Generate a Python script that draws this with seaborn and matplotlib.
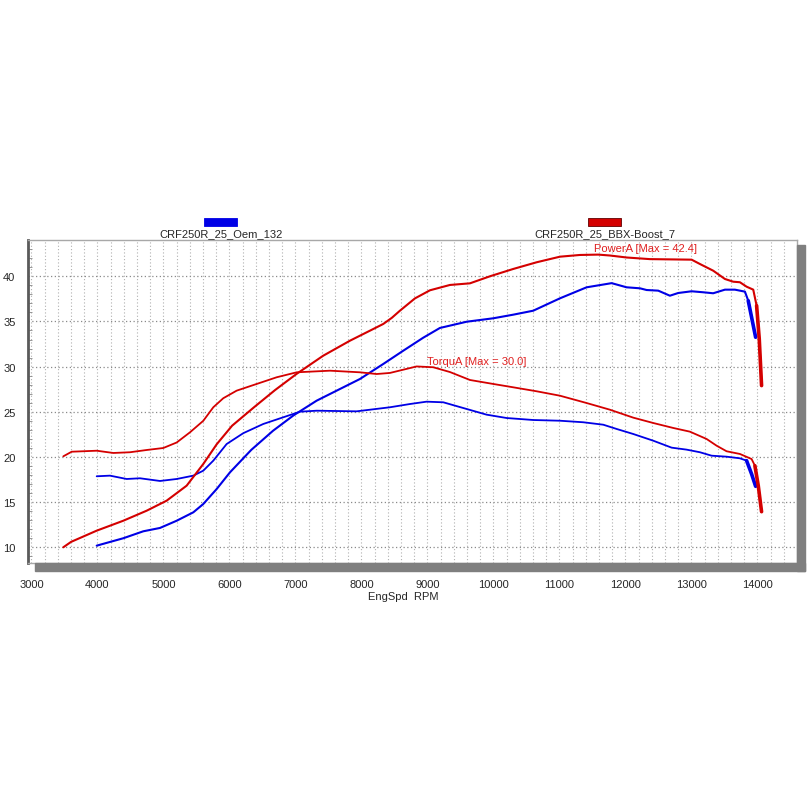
import numpy as np
import pandas as pd
import matplotlib
matplotlib.use("Agg")
import matplotlib.pyplot as plt
import seaborn as sns
from matplotlib.patches import Rectangle

# --- data ---
bbx_power_rpm = [3482, 3600, 3988, 4391, 4745, 5048, 5351, 5603, 5806, 6040, 6380, 6690, 7018,
                 7421, 7826, 8129, 8330, 8460, 8583, 8810, 9038, 9341, 9644, 9947, 10300, 10654,
                 11008, 11311, 11588, 11765, 12018, 12371, 13003, 13129, 13330, 13508, 13634,
                 13735, 13836, 13937, 13988, 14028, 14063]
bbx_power = [10.0, 10.6, 11.84, 12.94, 14.05, 15.16, 16.82, 19.22, 21.4, 23.46, 25.55, 27.4, 29.2,
             31.21, 32.87, 33.98, 34.72, 35.4, 36.19, 37.55, 38.45, 39.04, 39.22, 40.0, 40.81, 41.55,
             42.17, 42.36, 42.4, 42.3, 42.08, 41.9, 41.84, 41.36, 40.62, 39.7, 39.4,
             39.34, 38.85, 38.52, 36.75, 33.06, 27.9]

bbx_torque_rpm = [3482, 3609, 3988, 4240, 4492, 4745, 4997, 5200, 5402, 5603, 5755, 5906, 6109,
                  6412, 6715, 7018, 7523, 7977, 8230, 8432, 8836, 9088, 9341, 9644, 9997,
                  10300, 10654, 11008, 11412, 11765, 12119, 12421, 12724, 12977, 13230, 13381,
                  13533, 13735, 13912, 13962, 14013, 14063]
bbx_torque = [20.07, 20.58, 20.69, 20.44, 20.52, 20.77, 20.99, 21.6, 22.73, 24.0, 25.5, 26.5, 27.34,
              28.08, 28.82, 29.37, 29.55, 29.37, 29.18, 29.3, 30.02, 29.93, 29.4, 28.52, 28.08,
              27.71, 27.27, 26.78, 25.97, 25.23, 24.35, 23.76, 23.21, 22.8, 21.99, 21.25,
              20.63, 20.33, 19.77, 19.03, 16.82, 13.94]

oem_power_rpm = [3988, 4391, 4694, 4947, 5200, 5452, 5603, 5806, 6008, 6330, 6660, 6970, 7321,
                 7624, 7977, 8330, 8633, 8936, 9189, 9594, 9997, 10300, 10603, 11008, 11412,
                 11791, 12018, 12220, 12321, 12497, 12674, 12800, 13003, 13179, 13330, 13508,
                 13659, 13811, 13861, 13912, 13973]
oem_power = [10.18, 11.0, 11.77, 12.14, 12.94, 13.87, 14.79, 16.45, 18.3, 20.78, 22.9, 24.6, 26.23,
             27.34, 28.63, 30.29, 31.76, 33.2, 34.28, 34.97, 35.35, 35.75, 36.19, 37.56, 38.78,
             39.24, 38.78, 38.67, 38.48, 38.41, 37.85, 38.15, 38.34, 38.23, 38.12, 38.52,
             38.52, 38.3, 37.3, 35.46, 33.25]

oem_torque_rpm = [3988, 4189, 4442, 4644, 4947, 5200, 5452, 5603, 5755, 5957, 6209, 6512, 6815,
                  7068, 7321, 7927, 8432, 8735, 8987, 9240, 9594, 9897, 10200, 10603, 11008,
                  11361, 11664, 11866, 12119, 12421, 12700, 12927, 13129, 13306, 13533, 13735,
                  13836, 13912, 13973]
oem_torque = [17.86, 17.93, 17.56, 17.64, 17.34, 17.56, 17.93, 18.48, 19.59, 21.43, 22.63, 23.65, 24.39,
              25.01, 25.12, 25.05, 25.5, 25.86, 26.12, 26.05, 25.31, 24.68, 24.31, 24.09, 24.01,
              23.84, 23.57, 23.1, 22.54, 21.8, 21.03, 20.81, 20.52, 20.14, 20.03, 19.85,
              19.59, 18.11, 16.75]

runs = ["CRF250R_25_Oem_132", "CRF250R_25_BBX-Boost_7"]
run_colors = ["#0000E6", "#D40000"]
x_ticks = list(range(3000, 15000, 1000))
y_ticks = [10, 15, 20, 25, 30, 35, 40]

sns.set_style("white")
plt.rcParams["font.family"] = ["Liberation Sans", "DejaVu Sans"]

fig = plt.figure(figsize=(8.12, 8.12), dpi=100)
W = H = 812.0
ax = fig.add_axes([28 / W, 1 - 564 / H, (797 - 28) / W, (564 - 240.7) / H])

# drop shadow of the plot frame
shadow = "#7f7f7f"
fig.patches.append(Rectangle((35 / W, 1 - 572 / H), (805 - 35) / W, 8 / H,
                             transform=fig.transFigure, color=shadow, zorder=0))
fig.patches.append(Rectangle((797 / W, 1 - 572 / H), 8 / W, (572 - 246) / H,
                             transform=fig.transFigure, color=shadow, zorder=0))

# (rpm, values, colour, line width, points in the heavy drop-off)
series = [
    (oem_power_rpm, oem_power, run_colors[0], 1.5, 3),
    (oem_torque_rpm, oem_torque, run_colors[0], 1.3, 3),
    (bbx_power_rpm, bbx_power, run_colors[1], 1.5, 3),
    (bbx_torque_rpm, bbx_torque, run_colors[1], 1.3, 3),
]
for rpm, val, col, lw, tail in series:
    df = pd.DataFrame({"rpm": rpm, "val": val})
    sns.lineplot(data=df, x="rpm", y="val", ax=ax, color=col, lw=lw,
                 estimator=None, sort=False)
    # the drop-off at the top end is drawn heavier on the sheet
    sns.lineplot(data=df.iloc[-tail:], x="rpm", y="val", ax=ax, color=col, lw=2.6,
                 estimator=None, sort=False)

ax.set_xlim(2947, 14600)
ax.set_ylim(8.26, 44.05)
ax.set_xticks(x_ticks)
ax.set_yticks(y_ticks)
ax.set_xticks(np.arange(3000, 14600, 200), minor=True)
ax.set_yticks(np.arange(9, 44, 1), minor=True)
ax.grid(which="minor", axis="x", color="#b0b0b0", ls=(0, (1, 2)), lw=0.8)
ax.grid(which="major", axis="x", color="#b0b0b0", ls=(0, (1, 2)), lw=0.8)
ax.grid(which="major", axis="y", color="#8a8a8a", ls=(0, (1, 2)), lw=0.9)
ax.set_axisbelow(True)
ax.tick_params(axis="x", which="both", length=0, pad=11.5, labelsize=8)
ax.tick_params(axis="y", which="major", length=0, pad=9, labelsize=8)
ax.tick_params(axis="y", which="minor", direction="in", length=3, color="#888888", left=True)
ax.set_xlabel("")
ax.set_ylabel("")

for side in ["top", "right", "bottom"]:
    ax.spines[side].set_color("#a8a8a8")
    ax.spines[side].set_linewidth(1.0)
ax.spines["left"].set_color("#5a5a5a")
ax.spines["left"].set_linewidth(2.0)

fig.text(403 / W, 1 - 597 / H, "EngSpd  RPM", ha="center", va="center", fontsize=8)

# run legend above the frame
legend_x = [221, 605]
swatch_x = [204, 588]
for name, col, lx, sx in zip(runs, run_colors, legend_x, swatch_x):
    fig.patches.append(Rectangle((sx / W, 1 - 227 / H), 33 / W, 8 / H,
                                 transform=fig.transFigure, facecolor=col,
                                 edgecolor="#600000" if col == run_colors[1] else col, lw=0.6))
    fig.text(lx / W, 1 - 234.5 / H, name, ha="center", va="center", fontsize=8)

ax.text(11523, 43.1, "PowerA [Max = %.1f]" % max(bbx_power), color="#E02020",
        fontsize=8, va="center", ha="left")
ax.text(8992, 30.62, "TorquA [Max = %.1f]" % max(bbx_torque), color="#E02020",
        fontsize=8, va="center", ha="left")

fig.savefig("out.png", dpi=100)
